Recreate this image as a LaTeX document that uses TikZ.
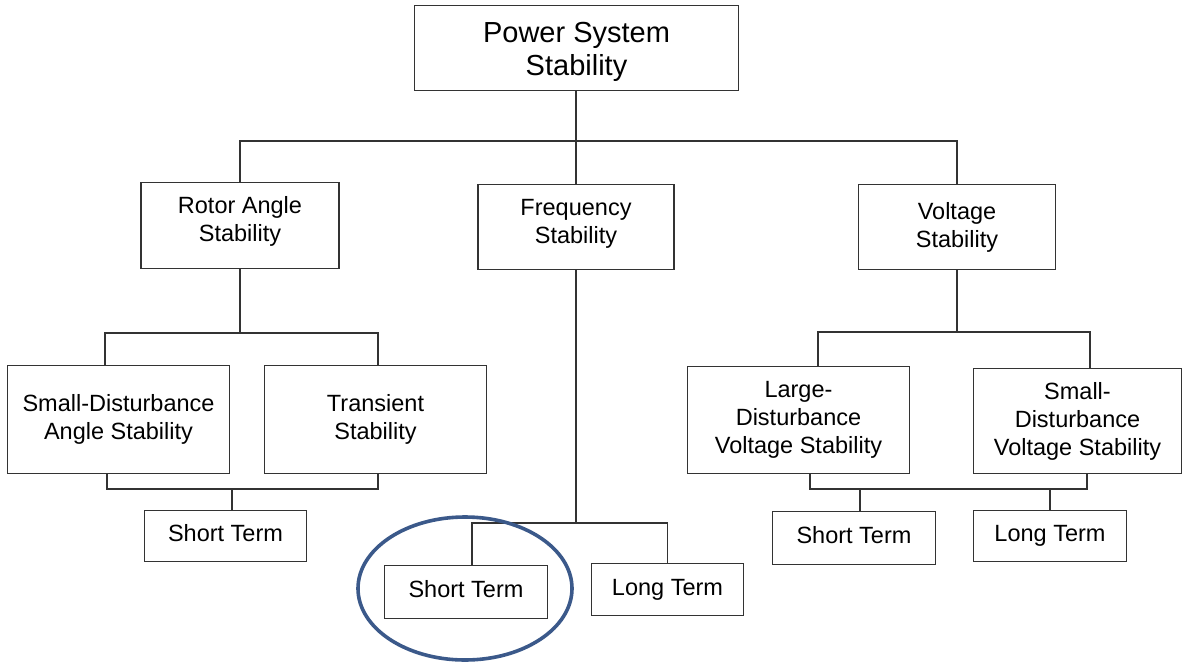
\documentclass[tikz,border=0pt]{standalone}
\usepackage{fontspec}
\setmainfont{Liberation Sans}
\definecolor{linegray}{RGB}{51,51,51}
\definecolor{circblue}{RGB}{59,89,138}
\begin{document}
\begin{tikzpicture}[x=1pt,y=-1pt,
  box/.style={draw=linegray, line width=1.3pt, fill=white, inner sep=0pt, align=center,
    font=\fontsize{23.5}{28}\selectfont, text=black},
  conn/.style={draw=linegray, line width=1.3pt},
  mark circle/.style={draw=circblue, line width=3.6pt}]
\useasboundingbox (0,0) rectangle (1184,664);
% level 0
\node[box, minimum width=324pt, minimum height=85pt, font=\fontsize{29}{33}\selectfont] (top) at (576.5,48) {\rule{0pt}{29pt}Power System\\Stability};
% level 1
\node[box, minimum width=198pt, minimum height=86pt] (rotor) at (240,225.5) {Rotor Angle\\Stability\rule[-14pt]{0pt}{1pt}};
\node[box, minimum width=196pt, minimum height=85pt] (freq) at (576,227) {Frequency\\Stability\rule[-11pt]{0pt}{1pt}};
\node[box, minimum width=197pt, minimum height=85pt] (volt) at (957,227) {Voltage\\Stability};
% level 2
\node[box, minimum width=222pt, minimum height=108pt] (sda) at (118.5,419.5) {Small-Disturbance\\Angle Stability};
\node[box, minimum width=222pt, minimum height=108pt] (trans) at (375.5,419.5) {Transient\\Stability};
\node[box, minimum width=222pt, minimum height=107pt] (ldv) at (798.5,420) {Large-\\Disturbance\\Voltage Stability};
\node[box, minimum width=208pt, minimum height=105pt] (sdv) at (1077.5,421) {Small-\\Disturbance\\Voltage Stability};
% level 3
\node[box, minimum width=162pt, minimum height=51pt] (st1) at (225.5,536) {\strut Short Term};
\node[box, minimum width=163pt, minimum height=53pt] (st2) at (466,592) {\strut Short Term};
\node[box, minimum width=152pt, minimum height=52pt] (lt2) at (667.5,589.5) {Long Term};
\node[box, minimum width=163pt, minimum height=53pt] (st3) at (854,538) {\strut Short Term};
\node[box, minimum width=153pt, minimum height=51pt] (lt3) at (1050,536) {Long Term};
% bus coordinates
\coordinate (b0) at (576,141);
\coordinate (ra1) at (105,333); \coordinate (ra2) at (378,333);
\coordinate (rb1) at (107,489); \coordinate (rb2) at (378,489); \coordinate (rb3) at (232,489);
\coordinate (f1) at (472,523); \coordinate (f2) at (667.5,523);
\coordinate (v1) at (818,332); \coordinate (v2) at (1090,332);
\coordinate (vb1) at (810,489); \coordinate (vb2) at (1087,489);
\coordinate (vb3) at (860,489); \coordinate (vb4) at (1050,489);
% connectors
\draw[conn] (top.south -| freq.north) -- (freq.north);
\draw[conn] (rotor.north) |- (b0) -| (volt.north);
\draw[conn] (rotor.south) -- (rotor.south |- ra1);
\draw[conn] (sda.north -| ra1) |- (ra2) -- (trans.north -| ra2);
\draw[conn] (sda.south -| rb1) |- (rb2) -- (trans.south -| rb2);
\draw[conn] (rb3) -- (st1.north -| rb3);
\draw[conn] (freq.south) -- (freq.south |- f1);
\draw[conn] (st2.north -| f1) |- (f2) -- (lt2.north);
\draw[conn] (volt.south) -- (volt.south |- v1);
\draw[conn] (ldv.north -| v1) |- (v2) -- (sdv.north -| v2);
\draw[conn] (ldv.south -| vb1) |- (vb2) -- (sdv.south -| vb2);
\draw[conn] (vb3) -- (st3.north -| vb3);
\draw[conn] (vb4) -- (lt3.north -| vb4);
% highlight
\draw[mark circle] (st2.center) ++(-1,-3.5) ellipse [x radius=107pt, y radius=71.5pt];
\end{tikzpicture}
\end{document}
